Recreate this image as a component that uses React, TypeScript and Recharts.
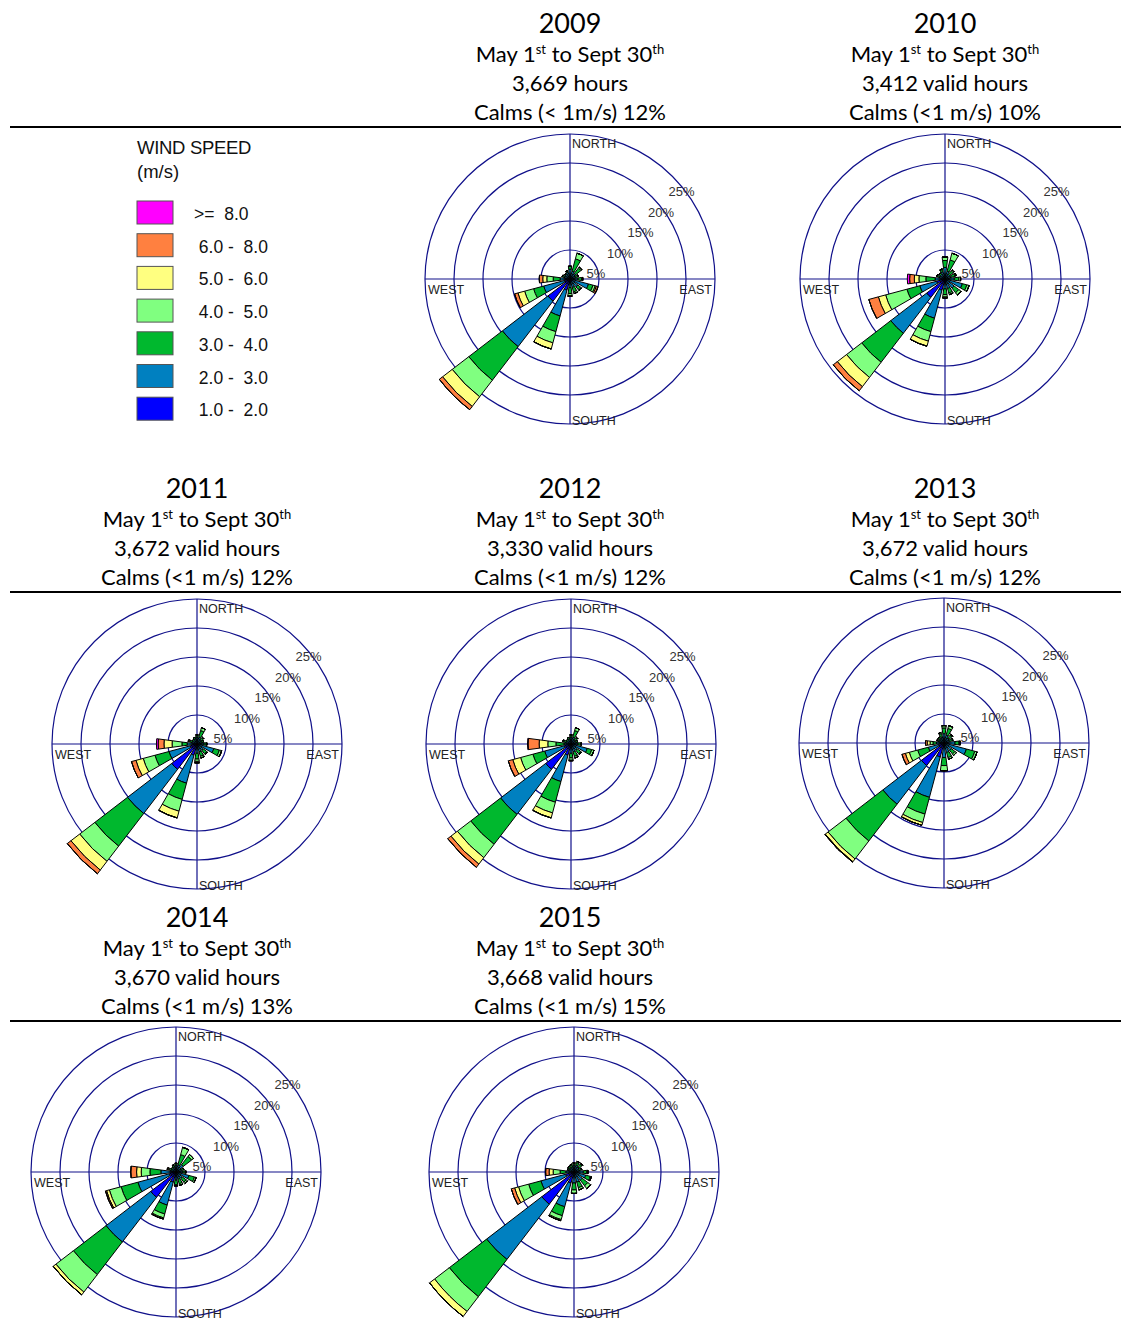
import React from "react";
import {
    RadialBarChart,
    RadialBar,
    PolarGrid,
    PolarAngleAxis,
    PolarRadiusAxis,
} from "recharts";

const DIRECTIONS = ["N", "NNE", "NE", "ENE", "E", "ESE", "SE", "SSE", "S", "SSW", "SW", "WSW", "W", "WNW", "NW", "NNW"];
const SPEED_KEYS = ["s1", "s2", "s3", "s4", "s5", "s6", "s7"];
const SPEED_NAMES = [" 1.0 -  2.0", " 2.0 -  3.0", " 3.0 -  4.0", " 4.0 -  5.0", " 5.0 -  6.0", " 6.0 -  8.0", ">=  8.0"];
const SPEED_COLORS = ["#0000ff", "#0080c0", "#00b82e", "#80ff80", "#ffff80", "#ff8040", "#ff00ff"];
const RING_TICKS = [5, 10, 15, 20, 25];

const YEARS = ["2009", "2010", "2011", "2012", "2013", "2014", "2015"];
const HOURS = ["3,669 hours", "3,412 valid hours", "3,672 valid hours", "3,330 valid hours", "3,672 valid hours", "3,670 valid hours", "3,668 valid hours"];
const CALMS = ["Calms (< 1m/s) 12%", "Calms (<1 m/s) 10%", "Calms (<1 m/s) 12%", "Calms (<1 m/s) 12%", "Calms (<1 m/s) 12%", "Calms (<1 m/s) 13%", "Calms (<1 m/s) 15%"];

// % of hours per direction (rows follow DIRECTIONS, columns follow SPEED_KEYS)
const rose2009 = [
    [0.5, 1.2, 0.5, 0, 0, 0, 0],
    [0.4, 1.0, 2.2, 1.0, 0, 0, 0],
    [0.4, 0.8, 1.2, 0.2, 0, 0, 0],
    [0.4, 0.6, 0.5, 0, 0, 0, 0],
    [0.4, 1.0, 0.6, 0.2, 0, 0, 0],
    [0.5, 2.8, 0.8, 0.4, 0.2, 0.3, 0],
    [0.5, 1.2, 0.6, 0.2, 0, 0, 0],
    [0.5, 1.0, 0.8, 0.3, 0, 0, 0],
    [0.5, 1.0, 1.0, 0.4, 0.1, 0, 0],
    [2.0, 4.6, 2.8, 2.0, 1.1, 0, 0],
    [4.8, 9.9, 7.3, 3.6, 2.1, 0.7, 0],
    [1.0, 3.7, 1.8, 1.6, 1.2, 0.6, 0],
    [0.9, 0.8, 1.2, 1.1, 0.7, 0.6, 0],
    [0.5, 0.6, 0.3, 0, 0, 0, 0],
    [0.4, 0.6, 0.2, 0, 0, 0, 0],
    [0.4, 0.8, 0.3, 0, 0, 0, 0],
];

const rose2010 = [
    [0.4, 1.6, 1.2, 0.6, 0, 0, 0],
    [0.4, 1.0, 2.0, 1.2, 0, 0, 0],
    [0.3, 0.7, 0.8, 0.2, 0, 0, 0],
    [0.3, 0.8, 0.7, 0.2, 0, 0, 0],
    [0.4, 1.2, 0.8, 0.3, 0, 0, 0],
    [0.5, 2.6, 0.8, 0.4, 0, 0, 0],
    [0.5, 1.5, 1.0, 0.5, 0, 0, 0],
    [0.5, 1.2, 0.8, 0.3, 0, 0, 0],
    [0.5, 1.2, 1.0, 0.4, 0.2, 0, 0],
    [2.0, 5.0, 2.4, 1.7, 0.9, 0, 0],
    [4.0, 7.8, 6.3, 3.3, 2.0, 0.9, 0],
    [1.5, 3.0, 2.3, 3.8, 1.3, 1.7, 0],
    [0.8, 0.9, 1.6, 1.2, 0.8, 0.8, 0.4],
    [0.4, 0.7, 0.4, 0, 0, 0, 0],
    [0.4, 0.6, 0.3, 0, 0, 0, 0],
    [0.4, 0.9, 0.4, 0.1, 0, 0, 0],
];

const rose2011 = [
    [0.4, 0.8, 0.4, 0, 0, 0, 0],
    [0.4, 0.8, 1.2, 0.5, 0, 0, 0],
    [0.3, 0.6, 0.5, 0.1, 0, 0, 0],
    [0.3, 0.5, 0.4, 0, 0, 0, 0],
    [0.4, 0.8, 0.4, 0.1, 0, 0, 0],
    [0.5, 2.5, 1.0, 0.4, 0, 0, 0],
    [0.4, 1.0, 0.7, 0.2, 0, 0, 0],
    [0.4, 1.0, 0.8, 0.3, 0, 0, 0],
    [0.4, 1.2, 1.0, 0.4, 0.2, 0.1, 0],
    [2.0, 5.0, 2.9, 2.1, 1.2, 0, 0],
    [5.5, 9.6, 7.1, 3.3, 1.9, 0.8, 0],
    [1.2, 3.8, 2.5, 2.1, 1.3, 0.8, 0],
    [0.8, 0.9, 0.9, 1.7, 1.4, 1.0, 0.3],
    [0.3, 0.6, 0.4, 0.1, 0.1, 0.1, 0],
    [0.3, 0.5, 0.2, 0, 0, 0, 0],
    [0.3, 0.6, 0.3, 0, 0, 0, 0],
];

const rose2012 = [
    [0.4, 0.8, 0.4, 0, 0, 0, 0],
    [0.4, 0.8, 1.2, 0.5, 0, 0, 0],
    [0.3, 0.6, 0.5, 0.1, 0, 0, 0],
    [0.3, 0.5, 0.4, 0, 0, 0, 0],
    [0.4, 0.8, 0.5, 0.1, 0, 0, 0],
    [0.5, 2.4, 0.8, 0.4, 0, 0, 0],
    [0.4, 1.0, 0.7, 0.2, 0, 0, 0],
    [0.4, 1.0, 0.8, 0.3, 0, 0, 0],
    [0.4, 1.2, 0.8, 0.4, 0.1, 0, 0],
    [2.0, 4.7, 3.7, 1.9, 0.9, 0, 0],
    [5.5, 9.8, 6.5, 2.9, 1.4, 0.7, 0],
    [1.2, 3.5, 2.1, 2.2, 1.4, 0.8, 0],
    [0.6, 0.6, 1.4, 1.4, 1.5, 1.9, 0.1],
    [0.3, 0.6, 0.4, 0.1, 0.1, 0, 0],
    [0.3, 0.5, 0.2, 0, 0, 0, 0],
    [0.3, 0.6, 0.3, 0, 0, 0, 0],
];

const rose2013 = [
    [0.4, 1.2, 1.0, 0.4, 0, 0, 0],
    [0.4, 1.0, 1.2, 0.5, 0, 0, 0],
    [0.3, 0.8, 0.6, 0.2, 0, 0, 0],
    [0.3, 0.7, 0.5, 0.1, 0, 0, 0],
    [0.4, 1.5, 0.7, 0.2, 0, 0, 0],
    [0.5, 3.5, 1.5, 0.4, 0, 0, 0],
    [0.4, 1.2, 0.8, 0.3, 0, 0, 0],
    [0.4, 1.3, 0.9, 0.3, 0, 0, 0],
    [0.5, 2.0, 1.4, 0.9, 0, 0, 0],
    [2.5, 7.2, 3.0, 1.5, 0.5, 0, 0],
    [4.9, 8.4, 8.0, 3.9, 0.6, 0.1, 0],
    [1.0, 1.8, 1.9, 1.5, 0.7, 0.6, 0],
    [0.5, 0.8, 0.6, 0.5, 0.5, 0.3, 0],
    [0.3, 0.5, 0.3, 0.1, 0.1, 0, 0],
    [0.3, 0.6, 0.3, 0.1, 0, 0, 0],
    [0.3, 0.8, 0.6, 0.2, 0, 0, 0],
];

const rose2014 = [
    [0.4, 0.8, 0.3, 0, 0, 0, 0],
    [0.4, 0.9, 1.8, 1.3, 0, 0, 0],
    [0.4, 1.2, 1.8, 0.4, 0, 0, 0],
    [0.3, 0.7, 0.4, 0, 0, 0, 0],
    [0.4, 0.8, 0.4, 0.1, 0, 0, 0],
    [0.5, 1.8, 1.0, 0.3, 0, 0, 0],
    [0.4, 1.0, 0.8, 0.3, 0, 0, 0],
    [0.4, 0.9, 0.8, 0.3, 0, 0, 0],
    [0.4, 1.0, 0.8, 0.2, 0, 0, 0],
    [1.8, 4.1, 1.6, 0.7, 0.2, 0, 0],
    [5.5, 9.7, 7.1, 3.8, 0.6, 0, 0],
    [1.2, 5.6, 3.0, 2.1, 0.5, 0.2, 0],
    [1.0, 1.6, 1.9, 1.5, 0.8, 1.0, 0],
    [0.3, 0.5, 0.4, 0.2, 0.1, 0.1, 0],
    [0.3, 0.5, 0.2, 0, 0, 0, 0],
    [0.3, 0.6, 0.3, 0.1, 0, 0, 0],
];

const rose2015 = [
    [0.4, 0.8, 0.3, 0.1, 0, 0, 0],
    [0.4, 0.8, 0.5, 0.2, 0, 0, 0],
    [0.4, 0.7, 0.6, 0.2, 0, 0, 0],
    [0.3, 0.6, 0.4, 0.1, 0, 0, 0],
    [0.4, 1.2, 0.6, 0.2, 0, 0, 0],
    [0.5, 1.6, 0.8, 0.2, 0, 0, 0],
    [0.4, 1.4, 1.2, 0.6, 0, 0, 0],
    [0.4, 1.4, 1.0, 0.4, 0, 0, 0],
    [0.4, 1.5, 1.2, 0.6, 0, 0, 0],
    [2.0, 4.2, 1.6, 0.7, 0.2, 0, 0],
    [7.0, 12.0, 8.1, 3.2, 1.1, 0, 0],
    [1.5, 4.4, 2.2, 1.8, 0.7, 0.6, 0],
    [0.6, 0.8, 1.0, 1.2, 0.7, 0.6, 0],
    [0.3, 0.5, 0.3, 0.1, 0, 0, 0],
    [0.3, 0.6, 0.3, 0.1, 0, 0, 0],
    [0.3, 0.6, 0.4, 0.1, 0, 0, 0],
];

const ROSES = [rose2009, rose2010, rose2011, rose2012, rose2013, rose2014, rose2015];

// page placement of each panel: title centre, title top, rose centre
const PANELS = [
    { tx: 570, ty: 6, cx: 570, cy: 279 },
    { tx: 945, ty: 6, cx: 945, cy: 279 },
    { tx: 197, ty: 471, cx: 197, cy: 744 },
    { tx: 570, ty: 471, cx: 571, cy: 744 },
    { tx: 945, ty: 471, cx: 944, cy: 743 },
    { tx: 197, ty: 900, cx: 176, cy: 1172 },
    { tx: 570, ty: 900, cx: 574, cy: 1172 },
];
const RULES_Y = [127, 592, 1021];

const CW = 420;
const CH = 400;
const RING_R = 145; // radius of the 25% ring
const AXIS_MAX = 35; // petals may run past the 25% ring
const BAR_R = (RING_R * AXIS_MAX) / 25;
const GRID = "#10108a";
const ARIAL = "'Liberation Sans', Arial, sans-serif";
const TITLE_FONT = "Lato, 'Open Sans', sans-serif";

const RingTick = (props: any) => {
    const { x, y, payload } = props;
    return (
        <text x={x - 4} y={y + 20} fontSize={13} fill="#333" fontFamily={ARIAL}>
            {payload.value}%
        </text>
    );
};

const Rose: React.FC<{ rows: number[][] }> = ({ rows }) => {
    const data = rows.map((r, i) => {
        const d: any = { dir: DIRECTIONS[i] };
        SPEED_KEYS.forEach((k, j) => (d[k] = r[j]));
        return d;
    });
    const cx = CW / 2;
    const cy = CH / 2;
    // first band is centred on north, sectors run clockwise
    return (
        <RadialBarChart
            width={CW}
            height={CH}
            cx={cx}
            cy={cy}
            innerRadius={0}
            outerRadius={BAR_R}
            data={data}
            layout="centric"
            startAngle={78.75}
            endAngle={-281.25}
            barCategoryGap="16.7%"
            margin={{ top: 0, right: 0, bottom: 0, left: 0 }}
        >
            <PolarGrid
                gridType="circle"
                radialLines={false}
                polarRadius={RING_TICKS.map((t) => (t / 25) * RING_R)}
                stroke={GRID}
                strokeWidth={1.2}
                strokeOpacity={1}
            />
            <g stroke={GRID} strokeWidth={1.2}>
                <line x1={cx - RING_R} y1={cy} x2={cx + RING_R} y2={cy} />
                <line x1={cx} y1={cy - RING_R} x2={cx} y2={cy + RING_R} />
            </g>
            <PolarAngleAxis type="category" dataKey="dir" tick={false} axisLine={false} tickLine={false} />
            <PolarRadiusAxis
                type="number"
                domain={[0, AXIS_MAX]}
                angle={45}
                ticks={RING_TICKS}
                tick={<RingTick />}
                axisLine={false}
                tickLine={false}
            />
            {SPEED_KEYS.map((k, j) => (
                <RadialBar
                    key={k}
                    dataKey={k}
                    stackId="speed"
                    fill={SPEED_COLORS[j]}
                    stroke="#000"
                    strokeWidth={1}
                    isAnimationActive={false}
                />
            ))}
            <g fontFamily={ARIAL} fontSize={12.5} fill="#222">
                <text x={cx + 2} y={cy - 131}>NORTH</text>
                <text x={cx + 2} y={cy + 146}>SOUTH</text>
                <text x={cx - 142} y={cy + 15}>WEST</text>
                <text x={cx + 142} y={cy + 15} textAnchor="end">EAST</text>
            </g>
            <circle cx={cx} cy={cy} r={3} fill="#fff" stroke="#000" strokeWidth={1} />
        </RadialBarChart>
    );
};

const Title: React.FC<{ i: number }> = ({ i }) => {
    const p = PANELS[i];
    const sup: React.CSSProperties = { fontSize: 13, verticalAlign: "8px", lineHeight: 0 };
    return (
        <div
            style={{
                position: "absolute",
                left: p.tx - 160,
                top: p.ty,
                width: 320,
                textAlign: "center",
                fontFamily: TITLE_FONT,
                color: "#000",
            }}
        >
            <div style={{ fontSize: 27, lineHeight: "33px" }}>{YEARS[i]}</div>
            <div style={{ fontSize: 22, lineHeight: "29px" }}>
                May 1<span style={sup}>st</span> to Sept 30<span style={sup}>th</span>
            </div>
            <div style={{ fontSize: 22, lineHeight: "29px" }}>{HOURS[i]}</div>
            <div style={{ fontSize: 22, lineHeight: "29px" }}>{CALMS[i]}</div>
        </div>
    );
};

const SpeedLegend: React.FC = () => {
    const order = SPEED_KEYS.map((_, j) => j).reverse();
    return (
        <svg width={200} height={300} style={{ position: "absolute", left: 120, top: 130 }}>
            <g fontFamily={ARIAL} fill="#111">
                <text x={17} y={24} fontSize={18.5} letterSpacing={-0.3}>WIND SPEED</text>
                <text x={17} y={48} fontSize={18.5}>(m/s)</text>
                {order.map((j, n) => (
                    <g key={j}>
                        <rect x={17} y={71 + n * 32.7} width={36} height={23} fill={SPEED_COLORS[j]} stroke="#555" strokeWidth={1} />
                        <text x={74} y={90 + n * 32.7} fontSize={17.5} style={{ whiteSpace: "pre" }}>
                            {SPEED_NAMES[j]}
                        </text>
                    </g>
                ))}
            </g>
        </svg>
    );
};

export default function App() {
    return (
        <div
            style={{
                position: "absolute",
                left: 0,
                top: 0,
                width: 1121,
                height: 1322,
                overflow: "hidden",
                background: "#fff",
            }}
        >
            {PANELS.map((p, i) => (
                <div key={YEARS[i]} style={{ position: "absolute", left: p.cx - CW / 2, top: p.cy - CH / 2 }}>
                    <Rose rows={ROSES[i]} />
                </div>
            ))}
            {PANELS.map((_, i) => (
                <Title key={YEARS[i]} i={i} />
            ))}
            {RULES_Y.map((y) => (
                <div key={y} style={{ position: "absolute", left: 10, top: y - 1, width: 1111, height: 2, background: "#000" }} />
            ))}
            <SpeedLegend />
        </div>
    );
}
